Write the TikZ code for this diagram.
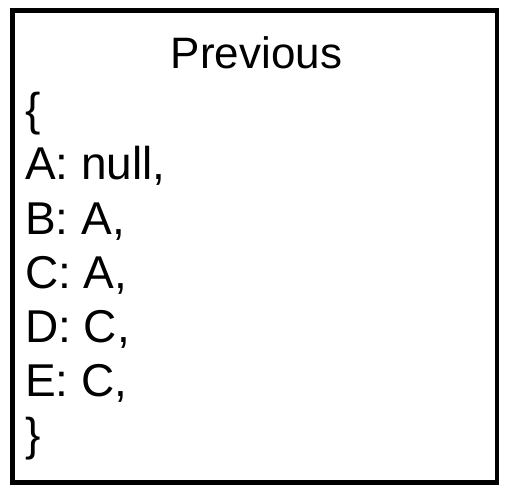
\documentclass[tikz,border=0pt]{standalone}
\usepackage{fontspec}
\setmainfont{Liberation Sans}
\usepackage{tikz}

\tikzset{
  entry/.style={anchor=base west, inner sep=0pt, font=\fontsize{46pt}{53pt}\selectfont},
}

\begin{document}
\begin{tikzpicture}[x=1pt, y=-1pt]%
\useasboundingbox (0,0) rectangle (512,494);%
\node[draw, rectangle, line width=4.5pt, minimum width=484.5pt, minimum height=472pt, inner sep=0pt] (box) at (254.75, 246.5) {};%
\node[anchor=base, inner sep=0pt, font=\fontsize{44pt}{53pt}\selectfont] (title) at (256.5, 68.5) {Previous};%
\node[entry] (open) at (25, 125.8) {\{};%
\node[entry] (ea) at (25, 180) {A: null,};%
\node[entry] (eb) at (25, 234.2) {B: A,};%
\node[entry] (ec) at (25, 288.4) {C: A,};%
\node[entry] (ed) at (25, 342.6) {D: C,};%
\node[entry] (ee) at (25, 396.8) {E: C,};%
\node[entry] (close) at (25, 451) {\}};%
\end{tikzpicture}
\end{document}
